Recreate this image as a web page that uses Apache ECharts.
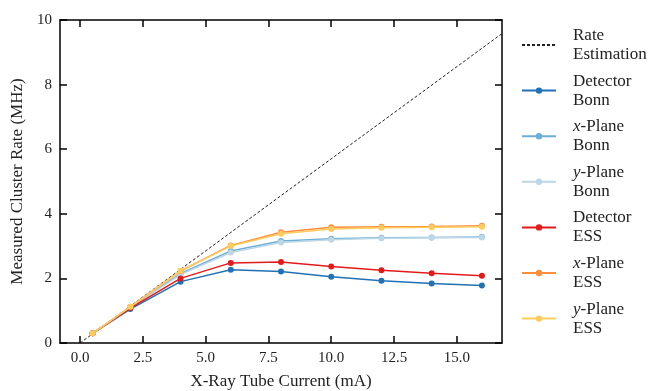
<!DOCTYPE html>
<html>
<head>
<meta charset="utf-8">
<script src="https://cdn.jsdelivr.net/npm/echarts@6/dist/echarts.min.js"></script>
<style>
  html, body { margin: 0; padding: 0; background: #fff; }
  #chart { width: 656px; height: 391px; }
</style>
</head>
<body>
<div id="chart"></div>
<script>
// tube current (mA) of each measurement
const currents = [0.5, 2, 4, 6, 8, 10, 12, 14, 16]

// measured cluster rates (MHz)
const detectorBonn = [0.3, 1.05, 1.9, 2.27, 2.21, 2.05, 1.93, 1.84, 1.78]
const xPlaneBonn = [0.3, 1.1, 2.15, 2.85, 3.16, 3.23, 3.26, 3.27, 3.28]
const yPlaneBonn = [0.3, 1.1, 2.12, 2.8, 3.11, 3.2, 3.24, 3.26, 3.27]
const detectorESS = [0.3, 1.08, 2.0, 2.48, 2.51, 2.37, 2.25, 2.16, 2.08]
const xPlaneESS = [0.3, 1.12, 2.23, 3.02, 3.43, 3.58, 3.6, 3.61, 3.63]
const yPlaneESS = [0.3, 1.12, 2.24, 3.0, 3.38, 3.53, 3.57, 3.58, 3.6]

// rate estimation line (straight)
const rateX = [0, 16.8]
const rateY = [0, 9.58]

const xTicks = [0, 2.5, 5, 7.5, 10, 12.5, 15]

const FONT = 'Liberation Serif'
const RATE_NAME = '{n|Rate}\n{n|Estimation}'

function pairs(xs, ys) {
  return xs.map((x, i) => [x, ys[i]])
}

const lineSeries = [
  { name: '{n|Detector}\n{n|Bonn}', data: detectorBonn, color: '#2171b5' },
  { name: '{i|x}{n|-Plane}\n{n|Bonn}', data: xPlaneBonn, color: '#6baed6' },
  { name: '{i|y}{n|-Plane}\n{n|Bonn}', data: yPlaneBonn, color: '#bdd7e7' },
  { name: '{n|Detector}\n{n|ESS}', data: detectorESS, color: '#e31a1c' },
  { name: '{i|x}{n|-Plane}\n{n|ESS}', data: xPlaneESS, color: '#fd8d3c' },
  { name: '{i|y}{n|-Plane}\n{n|ESS}', data: yPlaneESS, color: '#fecc5c' },
]

const chart = echarts.init(document.getElementById('chart'), null, { renderer: 'canvas' })

const axisLine = { show: true, onZero: false, lineStyle: { color: '#000', width: 1.5 } }
const tickStyle = { inside: true, length: 7, lineStyle: { color: '#000', width: 1.5 } }

// legend: hide the marker on the dashed estimation line
const legendData = [{ name: RATE_NAME, itemStyle: { opacity: 0 } }].concat(
  lineSeries.map((s) => ({ name: s.name }))
)

const option = {
  animation: false,
  grid: { left: 60, right: 154, top: 20, bottom: 48, outerBoundsMode: 'none' },
  legend: {
    orient: 'vertical',
    left: 521,
    top: 27,
    padding: 0,
    itemWidth: 34,
    itemHeight: 8,
    itemGap: 9.6,
    data: legendData,
    formatter: (name) => name,
    textStyle: {
      fontFamily: FONT,
      fontSize: 17,
      color: '#222',
      padding: [0, 0, 0, 12],
      rich: {
        n: { fontFamily: FONT, fontSize: 17, color: '#222', lineHeight: 19 },
        i: { fontFamily: FONT, fontSize: 17, fontStyle: 'italic', color: '#222', lineHeight: 19 },
      },
    },
  },
  xAxis: [
    {
      type: 'value',
      min: -0.8,
      max: 16.8,
      name: 'X-Ray Tube Current (mA)',
      nameLocation: 'middle',
      nameGap: 30,
      nameTextStyle: { fontFamily: FONT, fontSize: 17, color: '#222' },
      axisLine: axisLine,
      axisTick: Object.assign({ customValues: xTicks }, tickStyle),
      axisLabel: {
        customValues: xTicks,
        margin: 8,
        fontFamily: FONT,
        fontSize: 15,
        color: '#222',
        formatter: (v) => v.toFixed(1),
      },
      splitLine: { show: false },
    },
    {
      type: 'value',
      position: 'top',
      min: -0.8,
      max: 16.8,
      axisLine: axisLine,
      axisTick: Object.assign({ customValues: xTicks }, tickStyle),
      axisLabel: { show: false },
      splitLine: { show: false },
    },
  ],
  yAxis: [
    {
      type: 'value',
      min: 0,
      max: 10,
      interval: 2,
      name: 'Measured Cluster Rate (MHz)',
      nameLocation: 'middle',
      nameGap: 28,
      nameTextStyle: { fontFamily: FONT, fontSize: 17, color: '#222' },
      axisLine: axisLine,
      axisTick: tickStyle,
      axisLabel: { margin: 8, fontFamily: FONT, fontSize: 15, color: '#222' },
      splitLine: { show: false },
    },
    {
      type: 'value',
      position: 'right',
      min: 0,
      max: 10,
      interval: 2,
      axisLine: axisLine,
      axisTick: tickStyle,
      axisLabel: { show: false },
      splitLine: { show: false },
    },
  ],
  series: [
    {
      name: RATE_NAME,
      type: 'line',
      data: pairs(rateX, rateY),
      showSymbol: false,
      symbol: 'none',
      lineStyle: { color: '#222', width: 1, type: [3, 2] },
      itemStyle: { color: '#222' },
      z: 1,
    },
  ].concat(
    lineSeries.map((s, i) => ({
      name: s.name,
      type: 'line',
      data: pairs(currents, s.data),
      symbol: 'circle',
      symbolSize: 6,
      lineStyle: { color: s.color, width: 1.5 },
      itemStyle: { color: s.color },
      z: 2 + i,
    }))
  ),
}

chart.setOption(option)
</script>
</body>
</html>
